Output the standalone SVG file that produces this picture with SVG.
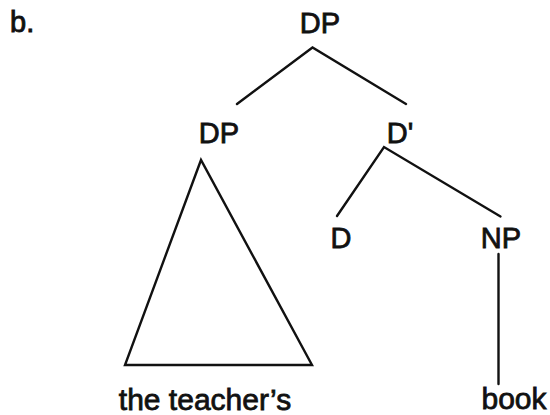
<svg xmlns="http://www.w3.org/2000/svg" width="550" height="415" viewBox="0 0 550 415">
<style>
.lbl{font-family:"Liberation Sans",Arial,sans-serif;font-size:29px;fill:#111;stroke:#111;stroke-width:0.8;text-anchor:middle}
.leaf{font-family:"Liberation Sans",Arial,sans-serif;font-size:30px;fill:#111;stroke:#111;stroke-width:0.8;text-anchor:middle}
.ln{stroke:#111;stroke-width:2.4;fill:none;stroke-linecap:round;stroke-linejoin:miter}
</style>
<rect width="550" height="415" fill="#fff"/>
<text x="10" y="32" font-family="Liberation Sans, Arial, sans-serif" font-size="29" fill="#111" stroke="#111" stroke-width="0.9">b.</text>
<g id="connectors">
<polyline class="ln" points="237,104 312.5,47.5 406,104"/>
<polyline class="ln" points="337,216 384,147 500.5,216.5"/>
<line class="ln" x1="498.5" y1="254" x2="498.5" y2="384"/>
<polygon class="ln" points="201,160 125,365 312,365"/>
</g>
<g id="node-root"><text class="lbl" x="320" y="33">DP</text></g>
<g id="node-dp"><text class="lbl" x="219" y="143">DP</text></g>
<g id="node-dbar"><text class="lbl" x="400" y="143">D'</text></g>
<g id="node-d"><text class="lbl" x="341" y="248">D</text></g>
<g id="node-np"><text class="lbl" x="501" y="248">NP</text></g>
<g id="leaf-teacher"><text class="leaf" x="205" y="410">the teacher’s</text></g>
<g id="leaf-book"><text class="leaf" x="514" y="409">book</text></g>
</svg>
